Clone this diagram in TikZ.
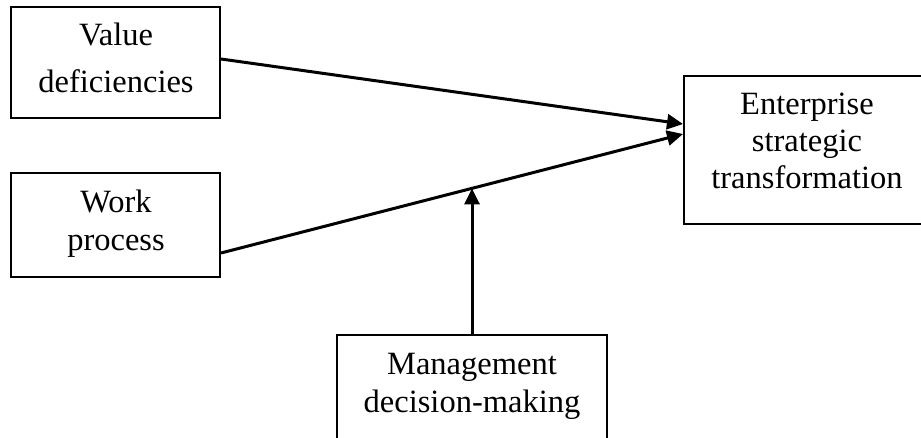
\documentclass[tikz,border=0pt]{standalone}
\usepackage{fontspec}
\setmainfont{Liberation Serif}
\usetikzlibrary{arrows.meta}
\begin{document}
\begin{tikzpicture}[x=1pt,y=-1pt,
  box/.style={draw=black, line width=2pt, rectangle, inner sep=0pt},
  txt/.style={anchor=base, inner sep=0pt, font=\fontsize{32.5}{38}\selectfont},
  link/.style={line width=3pt, -{Triangle[length=16pt,width=15pt]}}]
\useasboundingbox (0,0) rectangle (921,438);

% boxes
\node[box, minimum width=209pt, minimum height=111pt] (val) at (115.5,62.5) {};
\node[box, minimum width=209pt, minimum height=104pt] (wrk) at (115.5,225) {};
\node[box, minimum width=251pt, minimum height=148pt] (ent) at (809.5,150) {};
\node[box, minimum width=270pt, minimum height=130pt] (mgt) at (472,400) {};

% labels
\node[txt] (val1) at (116,46) {Value};
\node[txt] (val2) at (116,93) {deficiencies};
\node[txt] (wrk1) at (116,213) {Work};
\node[txt] (wrk2) at (116,251) {process};
\node[txt] (ent1) at (807,115) {Enterprise};
\node[txt] (ent2) at (807,152) {strategic};
\node[txt] (ent3) at (807,189) {transformation};
\node[txt] (mgt1) at (472,374) {Management};
\node[txt] (mgt2) at (472,412) {decision-making};

% connectors
\draw[link] ([yshift=3.5pt]val.east) -- ([yshift=26pt]ent.west);
\draw[link] ([yshift=-28pt]wrk.east) -- ([yshift=16pt]ent.west)
  coordinate[pos=0.543] (join);
\draw[link] (mgt.north) -- (mgt.north |- join);
\end{tikzpicture}
\end{document}
